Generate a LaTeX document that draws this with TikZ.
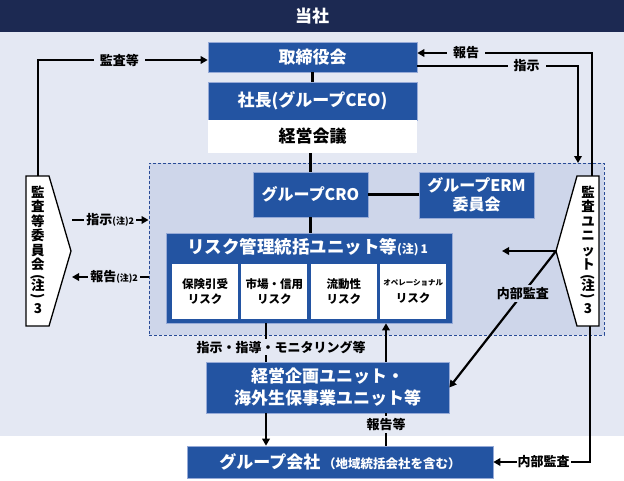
\documentclass[tikz,border=0pt]{standalone}
\usepackage{fontspec}
\setmainfont{Noto Sans CJK JP}
\usetikzlibrary{arrows.meta,positioning}
\definecolor{navy}{RGB}{28,41,82}
\definecolor{boxblue}{RGB}{35,84,162}
\definecolor{bgc}{RGB}{228,232,243}
\definecolor{regc}{RGB}{206,214,234}
\definecolor{dashc}{RGB}{40,75,150}
\definecolor{rimc}{RGB}{150,170,215}
\newcommand{\vlp}{\rotatebox[origin=c]{-90}{(}}
\newcommand{\vrp}{\rotatebox[origin=c]{-90}{)}}

\begin{document}
\begin{tikzpicture}[x=1pt, y=-1pt,
    >={Triangle[length=7pt,width=7.5pt]},
    bluebox/.style={draw=rimc, line width=0.6pt, fill=boxblue, text=white, inner sep=0pt, align=center,
        font=\fontsize{17}{20}\selectfont\bfseries},
    whitebox/.style={fill=white, inner sep=0pt, font=\fontsize{17}{20}\selectfont\bfseries},
    riskbox/.style={fill=white, minimum width=66, minimum height=55, inner sep=0pt, align=center,
        font=\fontsize{11.5}{14.5}\selectfont\bfseries},
    pent/.style={draw=black, line width=1.3pt, fill=white},
    vtext/.style={align=center, inner sep=0pt, font=\fontsize{13.5}{14.5}\selectfont\bfseries},
    conn/.style={line width=2.2pt},
    lbl/.style={fill=bgc, inner xsep=6pt, inner ysep=2pt, font=\fontsize{13}{15}\selectfont\bfseries}]
\useasboundingbox (0,0) rectangle (624,480);
\fill[bgc] (0,32) rectangle (624,436);
\node[fill=navy, text=white, minimum width=624, minimum height=32, inner sep=0pt,
    font=\fontsize{17}{20}\selectfont\bfseries] (tosha) at (312,16) {当社};

\node[draw=dashc, dash pattern=on 3pt off 2pt, line width=0.9pt, fill=regc,
    minimum width=455, minimum height=172, inner sep=0pt] (rm_area) at (376.5,249) {};

\node[bluebox, minimum width=209, minimum height=30] (board) at (312.5,57) {取締役会};
\node[bluebox, minimum width=209, minimum height=38] (ceo) at (312.5,101) {社長(グループCEO)};
\node[whitebox, minimum width=209, minimum height=33] (mgmt) at (312.5,136.5) {経営会議};
\node[bluebox, minimum width=115, minimum height=45, font=\fontsize{16}{19}\selectfont\bfseries] (cro) at (310.5,194.5) {グループCRO};
\node[bluebox, minimum width=115, minimum height=46, font=\fontsize{16}{19}\selectfont\bfseries] (erm) at (476.5,195) {グループERM\\委員会};

\node[bluebox, minimum width=286, minimum height=90] (rmu) at (309,278) {};
\node[text=white, inner sep=0pt, font=\fontsize{17.5}{20}\selectfont\bfseries] (rmu_t) at (307.5,247)
    {リスク管理統括ユニット等{\fontsize{12}{14}\selectfont(注)\,1}};
\node[riskbox] (rmu_1) at (205,291.5) {保険引受\\リスク};
\node[riskbox, right=3pt of rmu_1] (rmu_2) {市場・信用\\リスク};
\node[riskbox, right=3pt of rmu_2] (rmu_3) {流動性\\リスク};
\node[riskbox, right=3pt of rmu_3] (rmu_4) {{\fontsize{7.5}{9}\selectfont オペレーショナル}\\[3pt]リスク};

\node[bluebox, minimum width=243, minimum height=51, font=\fontsize{17}{22}\selectfont\bfseries] (cpu) at (327.5,387.5)
    {経営企画ユニット・\\海外生保事業ユニット等};
\node[bluebox, minimum width=306, minimum height=32] (grp) at (340,462)
    {グループ会社\,{\fontsize{12.5}{14}\selectfont（地域統括会社を含む）}};

\draw[pent] (26,176) -- (49,176) -- (71,251) -- (49,326) -- (26,326) -- cycle;
\node[vtext] (acm) at (38,250) {監\\査\\等\\委\\員\\会\\[-3pt]\vlp\\[-5pt]注\\[-5pt]\vrp\\[-1pt]3};
\draw[pent] (599,176) -- (577,176) -- (556,251) -- (577,326) -- (599,326) -- cycle;
\node[vtext] (aud) at (588,250) {監\\査\\ユ\\ニ\\ッ\\ト\\[-3pt]\vlp\\[-5pt]注\\[-5pt]\vrp\\[-1pt]3};

\coordinate (acm_n) at (38,176);
\coordinate (acm_e1) at (72,220);
\coordinate (acm_e2) at (72,277);
\coordinate (aud_n) at (592,176);
\coordinate (aud_w) at (556,251);
\coordinate (aud_s) at (590,326);
\coordinate (aud_in) at (578,163);
\coordinate (aud_out) at (502,251);
\coordinate (y_audit) at (0,60);
\coordinate (y_rep) at (0,53);
\coordinate (y_ins) at (0,66);
\coordinate (ins_x) at (266,0);
\coordinate (rep_x) at (386,0);

\draw[conn] (board) -- (ceo);
\draw[conn] (mgmt.south -| cro.north) -- (cro.north);
\draw[conn] (cro.east) -- (cro.east -| erm.west);
\draw[conn] (cro.south) -- (cro.south |- rmu.north);

\draw[conn,->] (acm_n) |- (board.west |- y_audit) node[lbl, pos=0.74] {監査等};
\draw[conn,->] (aud_n) |- (board.east |- y_rep) node[lbl, pos=0.86] {報告};
\draw[conn,->] (board.east |- y_ins) -| (aud_in) node[lbl, pos=0.34] {指示};

\draw[conn,->] (acm_e1) -- (rm_area.west |- acm_e1)
    node[lbl, inner xsep=2pt, midway] {指示{\fontsize{9}{10}\selectfont(注)2}};
\draw[conn,->] (rm_area.west |- acm_e2) -- (acm_e2)
    node[lbl, inner xsep=2pt, pos=0.45] {報告{\fontsize{9}{10}\selectfont(注)2}};

\draw[conn,->] (aud_w) -- (aud_out);
\draw[conn,->] (aud_w) -- (cpu.east) node[lbl, fill=regc, inner sep=2pt, pos=0.31] {内部監査};
\draw[conn,->] (aud_s) |- (grp.east) node[lbl, fill=white, inner xsep=1pt, pos=0.74] {内部監査};

\draw[conn] (ins_x |- rmu.south) -- (ins_x |- cpu.north);
\node[lbl, inner xsep=1pt] (instr) at (281,347) {指示・指導・モニタリング等};
\draw[conn,->] (ins_x |- cpu.south) -- (ins_x |- grp.north);
\draw[conn] (rep_x |- grp.north) -- (rep_x |- cpu.south) node[lbl, pos=0.65] {報告等};
\draw[conn,->] (rep_x |- cpu.north) -- (rep_x |- rmu.south);
\end{tikzpicture}
\end{document}
